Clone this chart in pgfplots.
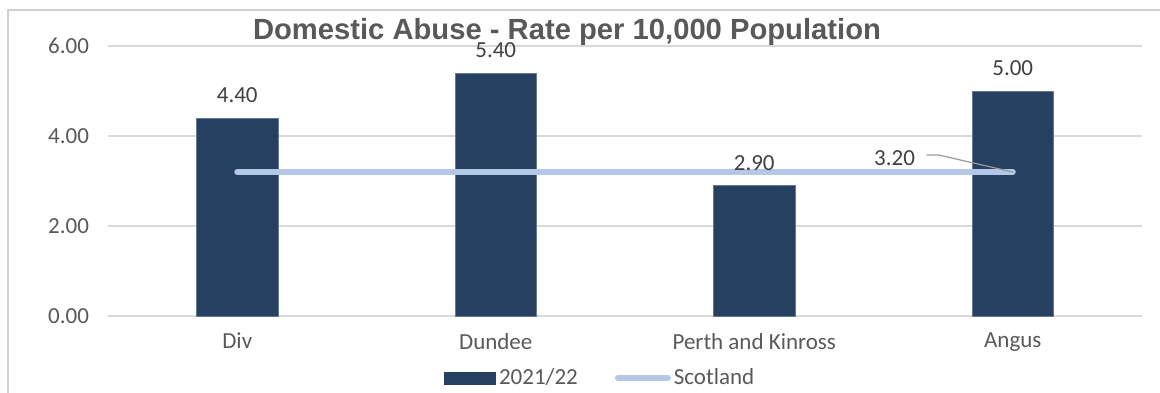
\documentclass[border=0pt]{standalone}
\usepackage{pgfplots}
\pgfplotsset{compat=1.18}
\usepackage{fontspec}
\setmainfont{Carlito}
\newfontfamily\titlefont{Liberation Sans}
\definecolor{barblue}{RGB}{38,64,97}
\definecolor{scotblue}{RGB}{180,199,231}
\definecolor{txtgray}{RGB}{89,89,89}
\definecolor{lblgray}{RGB}{64,64,64}
\definecolor{gridgray}{RGB}{217,217,217}
\definecolor{framegray}{RGB}{208,208,208}

\pgfkeys{/pgf/number format/.cd, fixed, fixed zerofill, precision=2, assume math mode=true}

\begin{document}
\begin{tikzpicture}
	\begin{axis}[
		scale only axis,
		width=517pt, height=135pt,
		xmin=-0.5, xmax=3.5,
		ymin=0, ymax=6,
		xtick=data,
		xticklabels={Div, Dundee, Perth and Kinross, Angus},
		ytick={0,2,4,6},
		ymajorgrids=true,
		grid style={gridgray, line width=0.75pt},
		axis line style={draw=none},
		major tick length=0pt,
		font=\fontsize{11.5}{13}\selectfont,
		ticklabel style={text=txtgray},
		yticklabel style={xshift=-6pt},
		xticklabel style={yshift=-5pt},
		legend style={at={(0.325,-0.2296)}, anchor=west, draw=none, fill=none,
			inner sep=0pt, legend columns=2, text=txtgray,
			/tikz/every even column/.append style={column sep=17pt},
			nodes={inner sep=1.5pt}},
		legend cell align=left,
	]
		\addplot[ybar, bar width=0.314, fill=barblue, draw=barblue!70!white, line width=0.3pt,
			nodes near coords,
			nodes near coords style={text=lblgray, yshift=4pt},
			legend image code/.code={\fill[barblue] (0pt,-3pt) rectangle (25.5pt,3pt);}]
			coordinates {(0,4.40) (1,5.40) (2,2.90) (3,5.00)};
		\addlegendentry{2021/22}

		\addplot[scotblue, line width=3pt, line cap=round, mark=none,
			legend image code/.code={\draw[scotblue, line width=3pt, line cap=round] (1.5pt,0pt) -- (26.5pt,0pt);}]
			coordinates {(0,3.2) (1,3.2) (2,3.2) (3,3.2)};
		\addlegendentry{Scotland}

		\draw[gray!80, line width=0.6pt] (axis cs:2.667,3.578) -- (axis cs:2.713,3.578) -- (axis cs:3.0,3.2);
		\node[text=lblgray, font=\fontsize{11.5}{13}\selectfont] at (axis cs:2.543,3.511) {3.20};
	\end{axis}
	\node[text=txtgray, font=\titlefont\bfseries\fontsize{14.6}{16}\selectfont] at (229.5pt,142pt) {Domestic Abuse - Rate per 10,000 Population};
	\draw[framegray, line width=1pt] (-50pt,-40pt) -- (-50pt,153pt) -- (530pt,153pt);
	\pgfresetboundingbox
	\useasboundingbox (-54pt,-38pt) rectangle (526pt,158pt);
\end{tikzpicture}
\end{document}
